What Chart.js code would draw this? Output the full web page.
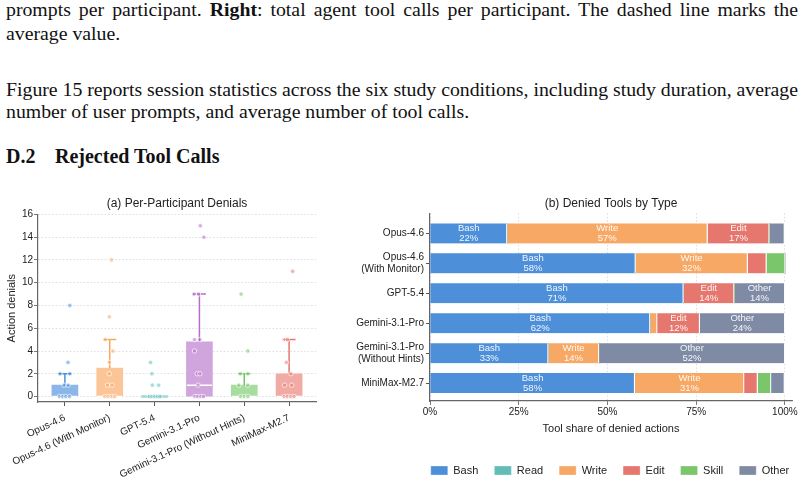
<!DOCTYPE html>
<html>
<head>
<meta charset="utf-8">
<script src="https://cdn.jsdelivr.net/npm/chart.js@4.4.1/dist/chart.umd.min.js"></script>
<style>
  body { margin: 0; width: 804px; height: 482px; overflow: hidden; background: #fff; position: relative;
         font-family: "Liberation Serif", "Times New Roman", serif; color: #111; }
  .ln { position: absolute; left: 6px; width: 792px; font-size: 19.8px; line-height: 22px; }
  .j { text-align: justify; text-align-last: justify; word-spacing: -2.5px; }
  #h { font-weight: bold; font-size: 20px; }
  #h span { display: inline-block; width: 49px; }
  #left { position: absolute; left: 0; top: 190px; }
  #right { position: absolute; left: 330px; top: 190px; }
</style>
</head>
<body>
<div class="ln j" style="top:-2px">prompts per participant. <b>Right</b>: total agent tool calls per participant. The dashed line marks the</div>
<div class="ln" style="top:22px">average value.</div>
<div class="ln j" style="top:78px">Figure 15 reports session statistics across the six study conditions, including study duration, average</div>
<div class="ln" style="top:100px">number of user prompts, and average number of tool calls.</div>
<div class="ln" id="h" style="top:145px"><span>D.2</span>Rejected Tool Calls</div>

<canvas id="left" width="330" height="292"></canvas>
<canvas id="right" width="560" height="296"></canvas>

<script>
// (a) per-participant denials
const conditions = ['Opus-4.6', 'Opus-4.6 (With Monitor)', 'GPT-5.4', 'Gemini-3.1-Pro',
  'Gemini-3.1-Pro (Without Hints)', 'MiniMax-M2.7'];
const q1 = [0, 0, 0, 0, 0, 0];
const q3 = [1, 2.5, 0, 4.8, 1, 2];
const medians = [0, 0, 0, 1, 0, 0];
const whiskerHi = [2, 5, 0, 9, 2, 5];
const denials = [
  [8, 3, 2, 2, 1, 1, 0, 0, 0, 0],
  [12, 7, 5, 4, 3, 2, 1, 1, 0, 0, 0, 0],
  [3, 2, 1, 1, 0, 0, 0, 0, 0],
  [15, 14, 9, 9, 5, 5, 4, 2, 2, 1, 0, 0, 0, 0],
  [9, 4, 2, 2, 1, 1, 0, 0, 0],
  [11, 5, 5, 3, 2, 1, 1, 0, 0, 0, 0]
];
const jitter = [
  [0.11, 0.07, -0.11, 0.11, -0.02, 0.07, -0.12, -0.05, 0.02, 0.1],
  [0.04, -0.01, -0.1, 0.07, -0.01, -0.01, -0.05, 0.05, -0.11, -0.04, 0.04, 0.11],
  [-0.09, -0.06, -0.05, 0.09, -0.12, -0.06, 0, 0.06, 0.12],
  [0.02, 0.1, -0.12, -0.02, -0.11, 0.01, -0.11, -0.05, 0.01, -0.03, -0.1, -0.04, 0.03, 0.09],
  [-0.07, 0.08, -0.09, 0.08, -0.12, 0.08, -0.08, 0, 0.08],
  [0.08, -0.09, -0.04, -0.06, 0.04, -0.1, 0.06, -0.11, -0.04, 0.04, 0.11]
];
const condColors = ['#4a8fdb', '#f9a55b', '#5dbfb9', '#b56fc8', '#74c466', '#e9756d'];
const boxFills = ['#8cb5ea', '#fbc597', '#9fd9d5', '#d0a5dd', '#a9dca1', '#f2aaa4'];

// (b) denied tools by type (% of denied actions)
const toolTypes = ['Bash', 'Read', 'Write', 'Edit', 'Skill', 'Other'];
const toolColors = ['#4e8fd9', '#62bdb7', '#f8a865', '#e5776f', '#79c66b', '#7f8ba5'];
const rowLabels = [['Opus-4.6'], ['Opus-4.6', '(With Monitor)'], ['GPT-5.4'], ['Gemini-3.1-Pro'],
  ['Gemini-3.1-Pro', '(Without Hints)'], ['MiniMax-M2.7']];
const bashShare  = [21.7, 57.9, 71.4, 62, 33.3, 57.7];
const readShare  = [0, 0, 0, 0, 0, 0];
const writeShare = [56.5, 31.6, 0, 2, 14.3, 30.8];
const editShare  = [17.4, 5.3, 14.3, 12, 0, 3.8];
const skillShare = [0, 5.3, 0, 0, 0, 3.8];
const otherShare = [4.3, 0, 14.3, 24, 52.4, 3.8];
const xTicks = [0, 25, 50, 75, 100];

Chart.defaults.font.family = '"Liberation Sans", Arial, sans-serif';
Chart.defaults.color = '#222';

function alpha(hex, a) {
  const n = parseInt(hex.slice(1), 16);
  return `rgba(${n >> 16},${(n >> 8) & 255},${n & 255},${a})`;
}

const leftSets = [{
  type: 'bar',
  data: conditions.map((c, i) => ({ x: i, y: [q1[i], q3[i]] })),
  backgroundColor: boxFills,
  barThickness: 26,
  minBarLength: 2,
  borderWidth: 0,
  order: 4
}];
conditions.forEach((c, i) => {
  if (whiskerHi[i] > q3[i]) {
    leftSets.push({
      type: 'line',
      data: [{ x: i, y: q3[i] }, { x: i, y: whiskerHi[i] }],
      borderColor: condColors[i],
      borderWidth: 1.5,
      pointStyle: 'line',
      pointRadius: [0, 6.5],
      pointBorderColor: condColors[i],
      pointBorderWidth: 1.5,
      order: 3
    });
  }
});
leftSets.push({
  type: 'scatter',
  data: conditions.map((c, i) => ({ x: i, y: medians[i] })).filter((p, i) => q3[i] > q1[i]),
  pointStyle: 'line',
  pointRadius: 12.5,
  pointBorderColor: '#fff',
  pointBorderWidth: 1.5,
  order: 2
});
conditions.forEach((c, i) => {
  leftSets.push({
    type: 'scatter',
    data: denials[i].map((v, k) => ({ x: i + jitter[i][k], y: v })),
    backgroundColor: alpha(condColors[i], 0.55),
    borderColor: 'rgba(255,255,255,0.9)',
    borderWidth: 0.8,
    pointRadius: 2.2,
    order: 1
  });
});

new Chart('left', {
  type: 'bar',
  data: { datasets: leftSets },
  options: {
    responsive: false,
    animation: false,
    events: [],
    layout: { padding: { left: 0, right: 3, top: 0, bottom: 0 } },
    plugins: {
      legend: { display: false },
      tooltip: { enabled: false },
      title: {
        display: true, text: '(a) Per-Participant Denials', fullSize: false,
        font: { size: 12, weight: 'normal' }, padding: { top: 6, bottom: 4 }
      }
    },
    scales: {
      x: {
        type: 'linear', min: -0.6, max: 5.6, offset: false,
        grid: { offset: false, drawOnChartArea: false, tickLength: 4, tickColor: '#555' },
        border: { color: '#666', width: 1.2 },
        ticks: {
          stepSize: 1, includeBounds: false, autoSkip: false, minRotation: 25, maxRotation: 25,
          font: { size: 10 }, padding: 6, callback: v => conditions[v]
        },
        afterFit: s => { s.height = 80; }
      },
      y: {
        type: 'linear', min: -0.48, max: 16,
        grid: { color: '#d3d6de', lineWidth: 0.8, tickLength: 4, tickColor: '#555', tickBorderDash: [] },
        border: { color: '#666', width: 1.2, dash: [1.5, 2] },
        ticks: { stepSize: 2, includeBounds: false, font: { size: 10 }, padding: 1 },
        title: { display: true, text: 'Action denials', font: { size: 11 }, padding: { top: 5, bottom: 0 } },
        afterFit: s => { s.width = 38; }
      }
    }
  }
});

// (b)
const shares = [bashShare, readShare, writeShare, editShare, skillShare, otherShare];
const segLabels = {
  id: 'segLabels',
  afterDatasetsDraw(chart) {
    const ctx = chart.ctx;
    ctx.save();
    ctx.fillStyle = 'rgba(255,255,255,0.92)';
    ctx.font = '9.5px "Liberation Sans", Arial, sans-serif';
    ctx.textAlign = 'center';
    ctx.textBaseline = 'middle';
    chart.data.datasets.forEach((ds, di) => {
      chart.getDatasetMeta(di).data.forEach((bar, i) => {
        const v = ds.data[i].x;
        if (v < 10) return;
        const p = bar.getProps(['x', 'y', 'base'], true);
        const cx = (p.x + p.base) / 2;
        ctx.fillText(ds.label, cx, p.y - 5);
        ctx.fillText(Math.round(v) + '%', cx, p.y + 5);
      });
    });
    ctx.restore();
  }
};

new Chart('right', {
  type: 'bar',
  data: {
    datasets: toolTypes.map((t, k) => ({
      label: t,
      data: shares[k].map((v, i) => ({ x: v, y: i })),
      backgroundColor: toolColors[k],
      borderColor: '#fff',
      borderWidth: { top: 0, bottom: 0, left: 0, right: 1.2 },
      borderSkipped: false,
      barThickness: 20
    }))
  },
  options: {
    indexAxis: 'y',
    responsive: false,
    animation: false,
    events: [],
    layout: { padding: 0 },
    plugins: {
      tooltip: { enabled: false },
      title: {
        display: true, text: '(b) Denied Tools by Type', fullSize: false,
        font: { size: 12, weight: 'normal' }, padding: { top: 6, bottom: 3 }
      },
      legend: {
        position: 'bottom',
        labels: { boxWidth: 17, boxHeight: 9, padding: 16, font: { size: 11 } }
      }
    },
    scales: {
      x: {
        type: 'linear', stacked: true, min: 0, max: 102,
        afterBuildTicks: s => { s.ticks = xTicks.map(v => ({ value: v })); },
        grid: { color: '#d3d6de', lineWidth: 0.8, tickLength: 4, tickColor: '#555', tickBorderDash: [] },
        border: { color: '#666', width: 1.2, dash: [1.5, 2] },
        ticks: { font: { size: 10 }, padding: 1, callback: v => v + '%' },
        title: { display: true, text: 'Tool share of denied actions', font: { size: 11 }, padding: { top: 0, bottom: 13 } },
        afterFit: s => { s.height = 48; }
      },
      y: {
        type: 'linear', stacked: true, reverse: true, min: -0.67, max: 5.6, offset: false,
        grid: { offset: false, drawOnChartArea: false, tickLength: 4, tickColor: '#555' },
        border: { color: '#666', width: 1.2 },
        ticks: { stepSize: 1, includeBounds: false, autoSkip: false, font: { size: 10 }, padding: 2,
          callback: v => rowLabels[v] },
        afterFit: s => { s.width = 100; }
      },
      // empty spacer on the right so the legend centres over the plot
      pad: {
        type: 'linear', position: 'right', display: true,
        grid: { display: false }, border: { display: false }, ticks: { display: false },
        afterFit: s => { s.width = 98; }
      }
    }
  },
  plugins: [segLabels]
});
</script>
</body>
</html>
